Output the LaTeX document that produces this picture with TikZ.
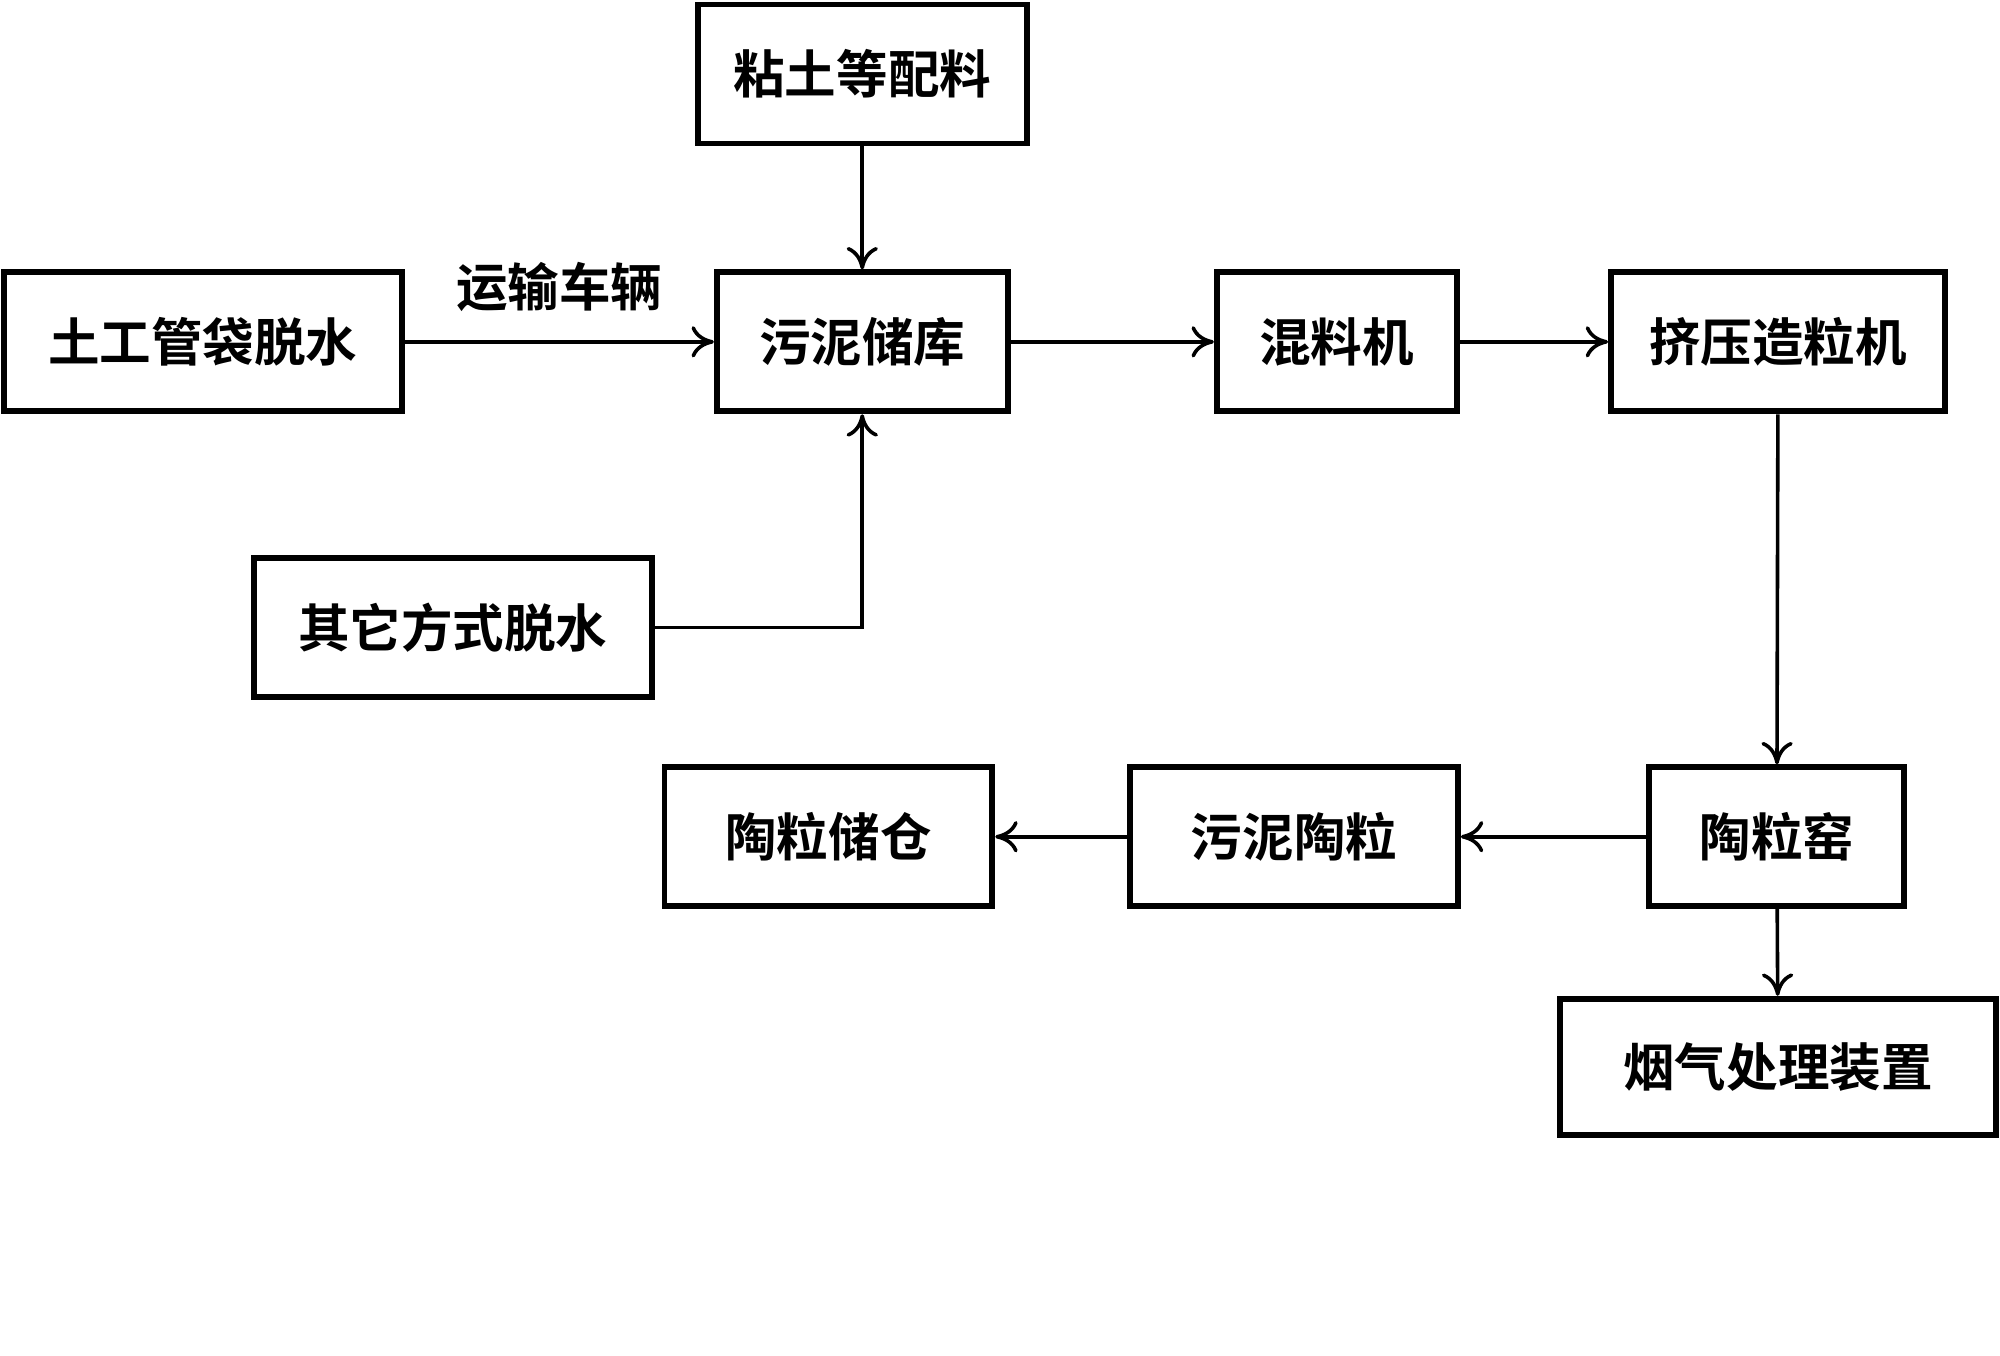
\documentclass[tikz,border=0pt]{standalone}
\usepackage{fontspec}
\setmainfont{Noto Sans CJK SC}[BoldFont={Noto Sans CJK SC Bold}]
\usetikzlibrary{arrows.meta}
\tikzset{
  box/.style={draw=black,line width=1.3pt,minimum height=1.09cm,inner sep=0pt,
    font=\fontsize{11.5}{13}\selectfont\bfseries},
  flow/.style={line width=0.8pt,-{To[length=5pt,width=7pt]}}
}
\begin{document}
\begin{tikzpicture}
  \useasboundingbox (0,0) rectangle (15.68,-10.63);
  % upper row
  \node[box,minimum width=2.58cm] (peiliao) at (6.76,-0.58) {粘土等配料};
  \node[box,minimum width=3.12cm] (guandai) at (1.59,-2.68) {土工管袋脱水};
  \node[box,minimum width=2.28cm] (chuku) at (6.76,-2.68) {污泥储库};
  \node[box,minimum width=1.88cm] (hunliao) at (10.48,-2.68) {混料机};
  \node[box,minimum width=2.62cm] (zaoli) at (13.94,-2.68) {挤压造粒机};
  \node[box,minimum width=3.12cm] (qita) at (3.55,-4.92) {其它方式脱水};
  % lower row
  \node[box,minimum width=2.57cm] (chucang) at (6.495,-6.56) {陶粒储仓};
  \node[box,minimum width=2.57cm] (taoli) at (10.145,-6.56) {污泥陶粒};
  \node[box,minimum width=2.00cm] (yao) at (13.93,-6.56) {陶粒窑};
  \node[box,minimum width=3.42cm,minimum height=1.07cm] (yanqi) at (13.94,-8.365) {烟气处理装置};

  \draw[flow] (peiliao) -- (chuku);
  \draw[flow] (guandai) -- node[above=3pt,font=\fontsize{11.5}{13}\selectfont\bfseries] (yunshu) {运输车辆} (chuku);
  \draw[flow] (qita.east) -| (chuku.south);
  \draw[flow] (chuku) -- (hunliao);
  \draw[flow] (hunliao) -- (zaoli);
  \draw[flow] (zaoli) -- (yao);
  \draw[flow] (yao) -- (taoli);
  \draw[flow] (taoli) -- (chucang);
  \draw[flow] (yao) -- (yanqi);
\end{tikzpicture}
\end{document}
